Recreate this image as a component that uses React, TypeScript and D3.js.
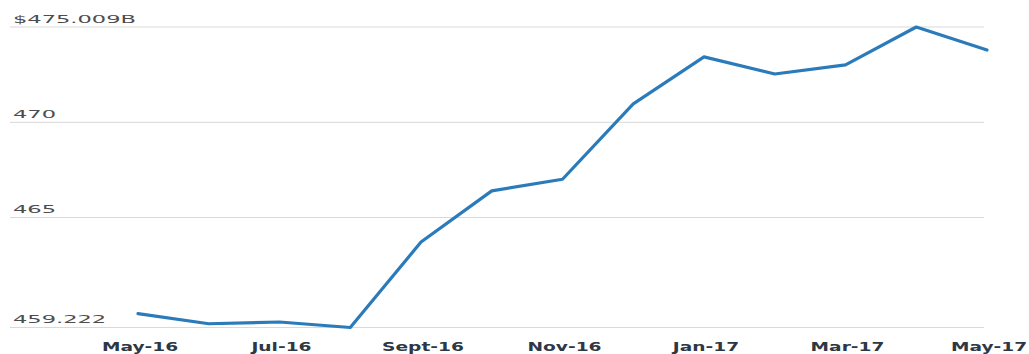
import React from "react";
import * as d3 from "d3";

const months = ["May-16","Jun-16","Jul-16","Aug-16","Sep-16","Oct-16","Nov-16","Dec-16","Jan-17","Feb-17","Mar-17","Apr-17","May-17"];
const values = [459.95, 459.42, 459.51, 459.222, 463.71, 466.40, 467.01, 470.97, 473.44, 472.54, 473.02, 475.009, 473.80];
const tickMonths = ["May-16","Jul-16","Sep-16","Nov-16","Jan-17","Mar-17","May-17"];
const tickLabels = ["May-16","Jul-16","Sept-16","Nov-16","Jan-17","Mar-17","May-17"];
const yTicks = [459.222, 465, 470, 475.009];
const yTickLabels = ["459.222","465","470","$475.009B"];

const W = 1029, H = 354;

export default function App() {
  const x = d3.scalePoint<string>().domain(months).range([138, 987]);
  const y = d3.scaleLinear().domain([459.222, 475.009]).range([327.5, 27]);
  const line = d3.line<number>().x((_, i) => x(months[i]) as number).y(d => y(d));
  return (
    <div style={{ position: "absolute", left: 0, top: 0 }}>
      <svg width={W} height={H} style={{ display: "block", background: "#fff" }}>
        {yTicks.map((t, i) => (
          <g key={i}>
            <line x1={10} x2={984} y1={y(t)} y2={y(t)} stroke="#d9d9d9" strokeWidth={1} />
            <text transform={`translate(13,${y(t) - 4.5}) scale(2.05,1)`} fontFamily="'DejaVu Sans', sans-serif" fontSize={11} fill="#4d4d4d">
              {yTickLabels[i]}
            </text>
          </g>
        ))}
        <path d={line(values) || ""} fill="none" stroke="#2b7bba" strokeWidth={3.2} strokeLinejoin="round" strokeLinecap="round" />
        {tickMonths.map((m, i) => (
          <text key={m} transform={`translate(${(x(m) as number) + 2},350.5) scale(1.55,1)`} textAnchor="middle" fontFamily="'DejaVu Sans', sans-serif" fontWeight={700} fontSize={12} fill="#2e3845">
            {tickLabels[i]}
          </text>
        ))}
      </svg>
    </div>
  );
}
